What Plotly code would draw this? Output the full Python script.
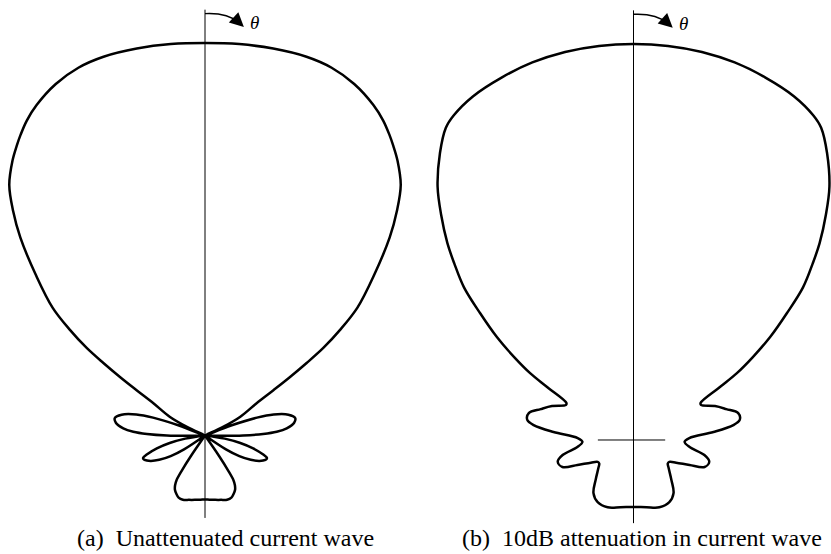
import numpy as np
import plotly.graph_objects as go

# Relative field strength |E(theta)| (normalised to the forward direction),
# theta in degrees measured clockwise from the antenna axis; patterns are
# symmetric, so only 0..180 deg is listed.

# (a) unattenuated current wave
theta_a = [0, 5, 10, 15, 19, 23, 27, 29.5, 31.5, 33, 35, 38, 40.5, 43, 46.5, 50, 52, 53.5, 54.5, 55.5, 56.5,
           58, 62, 64.5, 67,
           69, 71, 73, 76, 79, 82, 85, 87, 88.5, 90, 91, 92,
           96, 99, 102, 105, 108, 110, 112, 115, 118, 121, 123.5, 126,
           144, 145.5, 146.5, 147.5, 149, 151, 154, 157, 161, 166, 171, 176, 180]
field_a = [1.000, 1.001, 1.001, 0.999, 0.991, 0.973, 0.945, 0.922, 0.899, 0.8805, 0.855, 0.810, 0.753, 0.690,
           0.594, 0.507, 0.436, 0.375, 0.318, 0.262, 0.209, 0.155, 0.102, 0.051, 0.0,
           0.071, 0.140, 0.183, 0.219, 0.234, 0.229, 0.209, 0.183, 0.148, 0.097, 0.046, 0.0,
           0.0, 0.051, 0.092, 0.127, 0.155, 0.168, 0.166, 0.153, 0.132, 0.102, 0.064, 0.0,
           0.0, 0.064, 0.107, 0.135, 0.148, 0.158, 0.166, 0.172, 0.173, 0.169, 0.166, 0.164, 0.163]

# (b) 10 dB attenuation along the current wave
theta_b = [0, 5, 10, 15, 20, 25, 29, 31, 34, 37.7, 40.5, 43.4, 45.4, 48, 50.4, 53, 55.2, 57.1, 58.5, 61,
           62.5, 67.4, 71.6, 75.6, 79.3, 81.5, 84.3, 88, 92, 97, 102, 106, 110.8, 114, 118, 121.5,
           124.5, 128, 136.5, 143, 150, 159, 169, 180]
field_b = [1.000, 0.999, 0.995, 0.987, 0.974, 0.958, 0.937, 0.920, 0.874, 0.809, 0.748, 0.684, 0.636, 0.576,
           0.503, 0.432, 0.367, 0.311, 0.255, 0.194,
           0.192, 0.223, 0.247, 0.273, 0.273, 0.255, 0.203, 0.141, 0.129, 0.142, 0.183, 0.199, 0.192,
           0.155, 0.122, 0.106, 0.105, 0.112, 0.139, 0.168, 0.181, 0.182, 0.173, 0.169]

captions = ["(a)\u00a0 Unattenuated current wave", "(b)\u00a0 10dB attenuation in current wave"]


def full_pattern(theta_half, field_half):
    th = np.asarray(theta_half, float)
    f = np.asarray(field_half, float)
    th_full = np.concatenate([-th[::-1], th[1:]])
    f_full = np.concatenate([f[::-1], f[1:]])
    rad = np.deg2rad(th_full)
    return f_full * np.sin(rad), f_full * np.cos(rad)


fig = go.Figure()

line_style = dict(color="black", width=2.5, shape="spline", smoothing=1.0)
for (th, f), xa, ya in [((theta_a, field_a), "x", "y"), ((theta_b, field_b), "x2", "y2")]:
    x, y = full_pattern(th, f)
    fig.add_trace(go.Scatter(x=x, y=y, mode="lines", line=line_style,
                             xaxis=xa, yaxis=ya, hoverinfo="skip", showlegend=False))

shapes = []
annotations = []
for xa, ya in [("x", "y"), ("x2", "y2")]:
    # antenna axis
    shapes.append(dict(type="line", xref=xa, yref=ya, x0=0, x1=0, y0=-0.21, y1=1.085,
                       line=dict(color="black", width=1)))
    # theta direction arc
    shapes.append(dict(type="path", xref=xa, yref=ya,
                       path="M 0,1.075 Q 0.055,1.078 0.088,1.052",
                       line=dict(color="black", width=1.4)))
    annotations.append(dict(xref=xa, yref=ya, x=0.099, y=1.041, axref=xa, ayref=ya,
                            ax=0.086, ay=1.053, text="", showarrow=True,
                            arrowhead=2, arrowsize=2.0, arrowwidth=1.4, arrowcolor="black"))
    annotations.append(dict(xref=xa, yref=ya, x=0.126, y=1.052, text="<i>θ</i>", showarrow=False,
                            font=dict(family="Liberation Serif", size=19, color="black")))

# origin marker on pattern (b)
shapes.append(dict(type="line", xref="x2", yref="y2", x0=-0.09, x1=0.08, y0=0, y1=0,
                   line=dict(color="black", width=1)))

for cx, text in zip([0.271, 0.773], captions):
    annotations.append(dict(xref="paper", yref="paper", x=cx, y=0.029, text=text, showarrow=False,
                            xanchor="center", yanchor="middle",
                            font=dict(family="Liberation Serif", size=24, color="black")))

hidden = dict(visible=False, showgrid=False, zeroline=False, fixedrange=True)
fig.update_layout(
    width=831, height=554,
    margin=dict(l=0, r=0, t=0, b=0),
    paper_bgcolor="white", plot_bgcolor="white",
    xaxis=dict(domain=[0, 0.5], range=[-0.5223, 0.5363], **hidden),
    yaxis=dict(domain=[0, 1], range=[-0.3019, 1.1096], **hidden),
    xaxis2=dict(domain=[0.5, 1], range=[-0.5505, 0.4987], anchor="y2", **hidden),
    yaxis2=dict(domain=[0, 1], range=[-0.2879, 1.1111], anchor="x2", **hidden),
    shapes=shapes,
    annotations=annotations,
)

fig.write_html("out.html")
